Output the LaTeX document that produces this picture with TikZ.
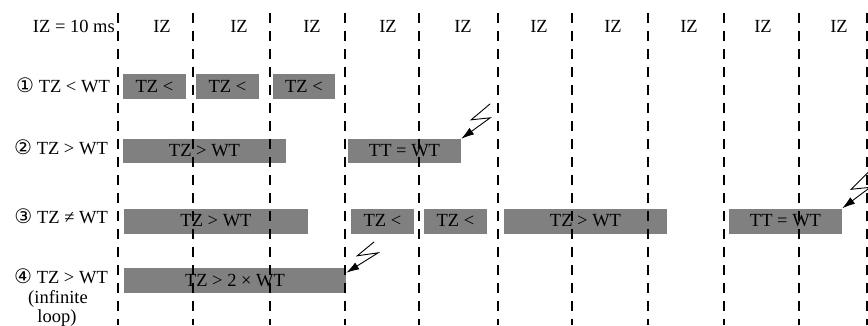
\documentclass[tikz,border=0pt]{standalone}
\usepackage{fontspec}
\setmainfont{Liberation Serif}
\newfontfamily\circfont{DejaVu Sans}
\usetikzlibrary{arrows.meta}
\definecolor{boxgray}{HTML}{808080}
\newcommand{\circnum}[1]{{\circfont\fontsize{20}{20}\selectfont #1}}
\begin{document}
\begin{tikzpicture}[x=1pt,y=-1pt,
  every node/.style={font=\fontsize{18.5}{19.5}\selectfont, inner sep=0pt},
  box/.style={fill=boxgray, minimum height=25pt},
  boxtext/.style={text height=12.2pt, text depth=1pt},
  gridline/.style={line width=2pt, dash pattern=on 10pt off 8pt},
  bolt/.style={line width=0.9pt, -{Latex[length=13pt,width=8pt]}}]
\useasboundingbox (0,0) rectangle (868,325);

% boxes
\node[box, minimum width=63pt] (b11) at (154.5,86.5) {};
\node[box, minimum width=63pt] (b12) at (227.5,86.5) {};
\node[box, minimum width=62pt] (b13) at (304,86.5) {};
\node[box, minimum width=163pt, minimum height=24pt] (b21) at (204.5,151) {};
\node[box, minimum width=113pt, minimum height=24pt] (b22) at (404.5,151) {};
\node[box, minimum width=184pt] (b31) at (216,221) {};
\node[box, minimum width=63pt] (b32) at (382.5,221) {};
\node[box, minimum width=63pt] (b33) at (455.5,221) {};
\node[box, minimum width=163pt] (b34) at (585.5,221) {};
\node[box, minimum width=113pt] (b35) at (785.5,221) {};
\node[box, minimum width=222pt] (b41) at (235,280.5) {};

% dashed interval lines
\foreach \x in {118,193,270,345,419,498,572,648,724,799,867}
  \draw[gridline] (\x,13) -- (\x,325);

% box texts
\node[boxtext] (t11) at (b11) {TZ <};
\node[boxtext] (t12) at (b12) {TZ <};
\node[boxtext] (t13) at (b13) {TZ <};
\node[boxtext] (t21) at (b21) {TZ > WT};
\node[boxtext] (t22) at (b22) {TT = WT};
\node[boxtext] (t31) at (b31) {TZ > WT};
\node[boxtext] (t32) at (b32) {TZ <};
\node[boxtext] (t33) at (b33) {TZ <};
\node[boxtext] (t34) at (b34) {TZ > WT};
\node[boxtext] (t35) at (b35) {TT = WT};
\node[boxtext] (t41) at (b41) {TZ > 2 × WT};

% header
\node[anchor=base east] (izt) at (115,32) {IZ = 10 ms};
\foreach \x [count=\i] in {162,239,312,388,463,539,613,689,763,839}
  \node[anchor=base] (iz\i) at (\x,32) {IZ};

% row labels
\node[anchor=base east] (r1) at (110,92) {\circnum{①} TZ < WT};
\node[anchor=base east] (r2) at (108,154) {\circnum{②} TZ > WT};
\node[anchor=base east] (r3) at (108,223) {\circnum{③} TZ ≠ WT};
\node[anchor=base east] (r4) at (108,283) {\circnum{④} TZ > WT};
\node[anchor=base] (r4b) at (58,303) {(infinite};
\node[anchor=base] (r4c) at (57,322) {loop)};

% lightning arrows
\draw[bolt] ([shift={(29,-35)}]b22.north east) -- ++(-19,16) -- ++(19,-2) -- (b22.north east);
\draw[bolt] ([shift={(26,-36)}]b35.north east) -- ++(-17,17) -- ++(19,-2) -- (b35.north east);
\draw[bolt] ([shift={(28,-26)}]b41.north east) -- ++(-17,14) -- ++(21,-3) -- ([yshift=-5pt]b41.north east);
\end{tikzpicture}
\end{document}
